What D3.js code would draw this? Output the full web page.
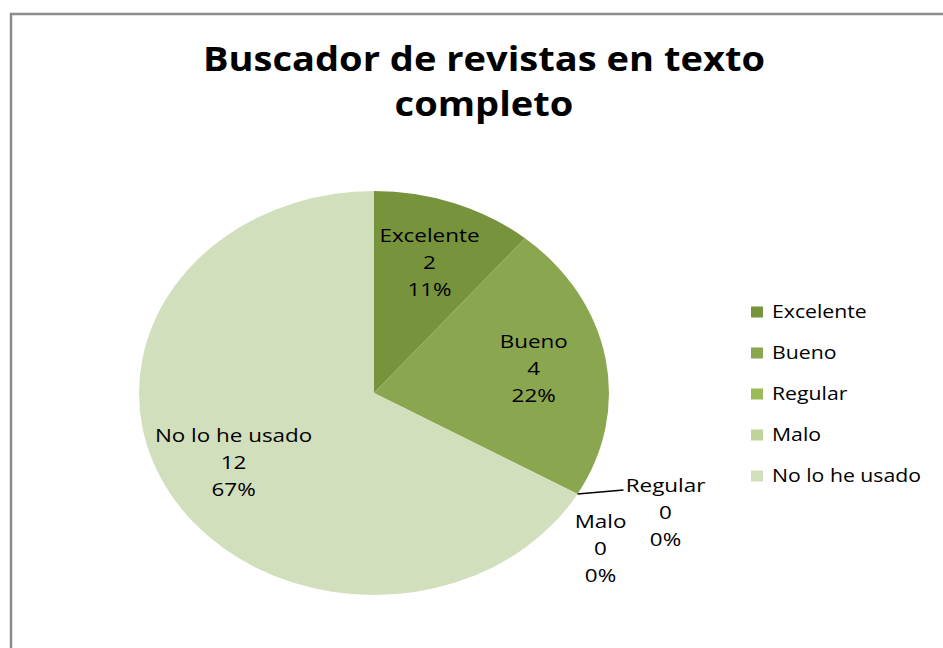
<!DOCTYPE html>
<html>
<head>
<meta charset="utf-8">
<script src="https://cdn.jsdelivr.net/npm/d3@7"></script>
<style>
  body { margin: 0; background: #fff; }
  text { font-family: "Open Sans", "Liberation Sans", sans-serif; fill: #000; }
</style>
</head>
<body>
<div id="chart"></div>
<script>
const categories = ["Excelente", "Bueno", "Regular", "Malo", "No lo he usado"]
const values = [2, 4, 0, 0, 12]
const percents = ["11%", "22%", "0%", "0%", "67%"]
const colors = ["#77933c", "#8aa64f", "#9bbb59", "#c0d49a", "#d2dfbd"]
const titleLines = ["Buscador de revistas en texto", "completo"]

const width = 943, height = 648
const cx = 374, cy = 393, rx = 235, ry = 202
// the original picture is stretched sideways, text too
const stretch = 1.18

const svg = d3.select("#chart").append("svg")
    .attr("width", width)
    .attr("height", height)

svg.append("rect")
    .attr("x", 11).attr("y", 14)
    .attr("width", width + 20).attr("height", height + 20)
    .attr("fill", "#fff")
    .attr("stroke", "#8c8c8c")
    .attr("stroke-width", 2.5)

// title
svg.append("g")
    .selectAll("text")
    .data(titleLines)
    .join("text")
    .attr("transform", (d, i) => `translate(484,${71 + i * 45}) scale(1.12,1)`)
    .attr("text-anchor", "middle")
    .attr("font-size", 34)
    .attr("font-weight", "bold")
    .text(d => d)

const data = categories.map((c, i) => ({ name: c, value: values[i], pct: percents[i], color: colors[i] }))

const pie = d3.pie().sort(null).value(d => d.value)
const arcs = pie(data)
const arc = d3.arc().innerRadius(0).outerRadius(ry)

const g = svg.append("g")
    .attr("transform", `translate(${cx},${cy}) scale(${rx / ry},1)`)

g.selectAll("path")
    .data(arcs.filter(d => d.value > 0))
    .join("path")
    .attr("d", arc)
    .attr("fill", d => d.data.color)

// labels
const labelArc = d3.arc().innerRadius(ry * 0.69).outerRadius(ry * 0.69)
const toScreen = ([x, y]) => [cx + x * rx / ry, cy + y]
const lineH = 27

const labelG = svg.append("g").attr("font-size", 19)

const drawLabel = (lines, x, y) => {
    labelG.append("text")
        .attr("transform", `translate(${x},${y}) scale(${stretch},1)`)
        .attr("text-anchor", "middle")
        .selectAll("tspan")
        .data(lines)
        .join("tspan")
        .attr("x", 0)
        .attr("y", (d, i) => (i - 1) * lineH)
        .attr("dy", "0.35em")
        .text(d => d)
}

arcs.forEach(d => {
    const lines = [d.data.name, String(d.data.value), d.data.pct]
    if (d.value > 0) {
        const [x, y] = toScreen(labelArc.centroid(d))
        drawLabel(lines, x, y)
    }
})

// zero slices: labels outside, at the edge point
const zero = arcs.filter(d => d.value === 0)
const edge = toScreen([Math.sin(zero[0].startAngle) * ry, -Math.cos(zero[0].startAngle) * ry])

svg.append("path")
    .attr("d", `M${edge[0]},${edge[1]}L${edge[0] + 46},${edge[1] - 4}`)
    .attr("stroke", "#000")
    .attr("stroke-width", 1.5)
    .attr("fill", "none")

drawLabel([zero[0].data.name, "0", zero[0].data.pct], edge[0] + 88, edge[1] + 18)
drawLabel([zero[1].data.name, "0", zero[1].data.pct], edge[0] + 23, edge[1] + 54)

// legend
const legend = svg.append("g")
    .attr("transform", "translate(751,312)")
    .selectAll("g")
    .data(data)
    .join("g")
    .attr("transform", (d, i) => `translate(0,${i * 41})`)

legend.append("rect")
    .attr("x", 0).attr("y", -5.5)
    .attr("width", 12).attr("height", 11)
    .attr("fill", d => d.color)

legend.append("text")
    .attr("transform", `translate(21,0) scale(${stretch},1)`)
    .attr("dy", "0.35em")
    .attr("font-size", 18)
    .text(d => d.name)
</script>
</body>
</html>
